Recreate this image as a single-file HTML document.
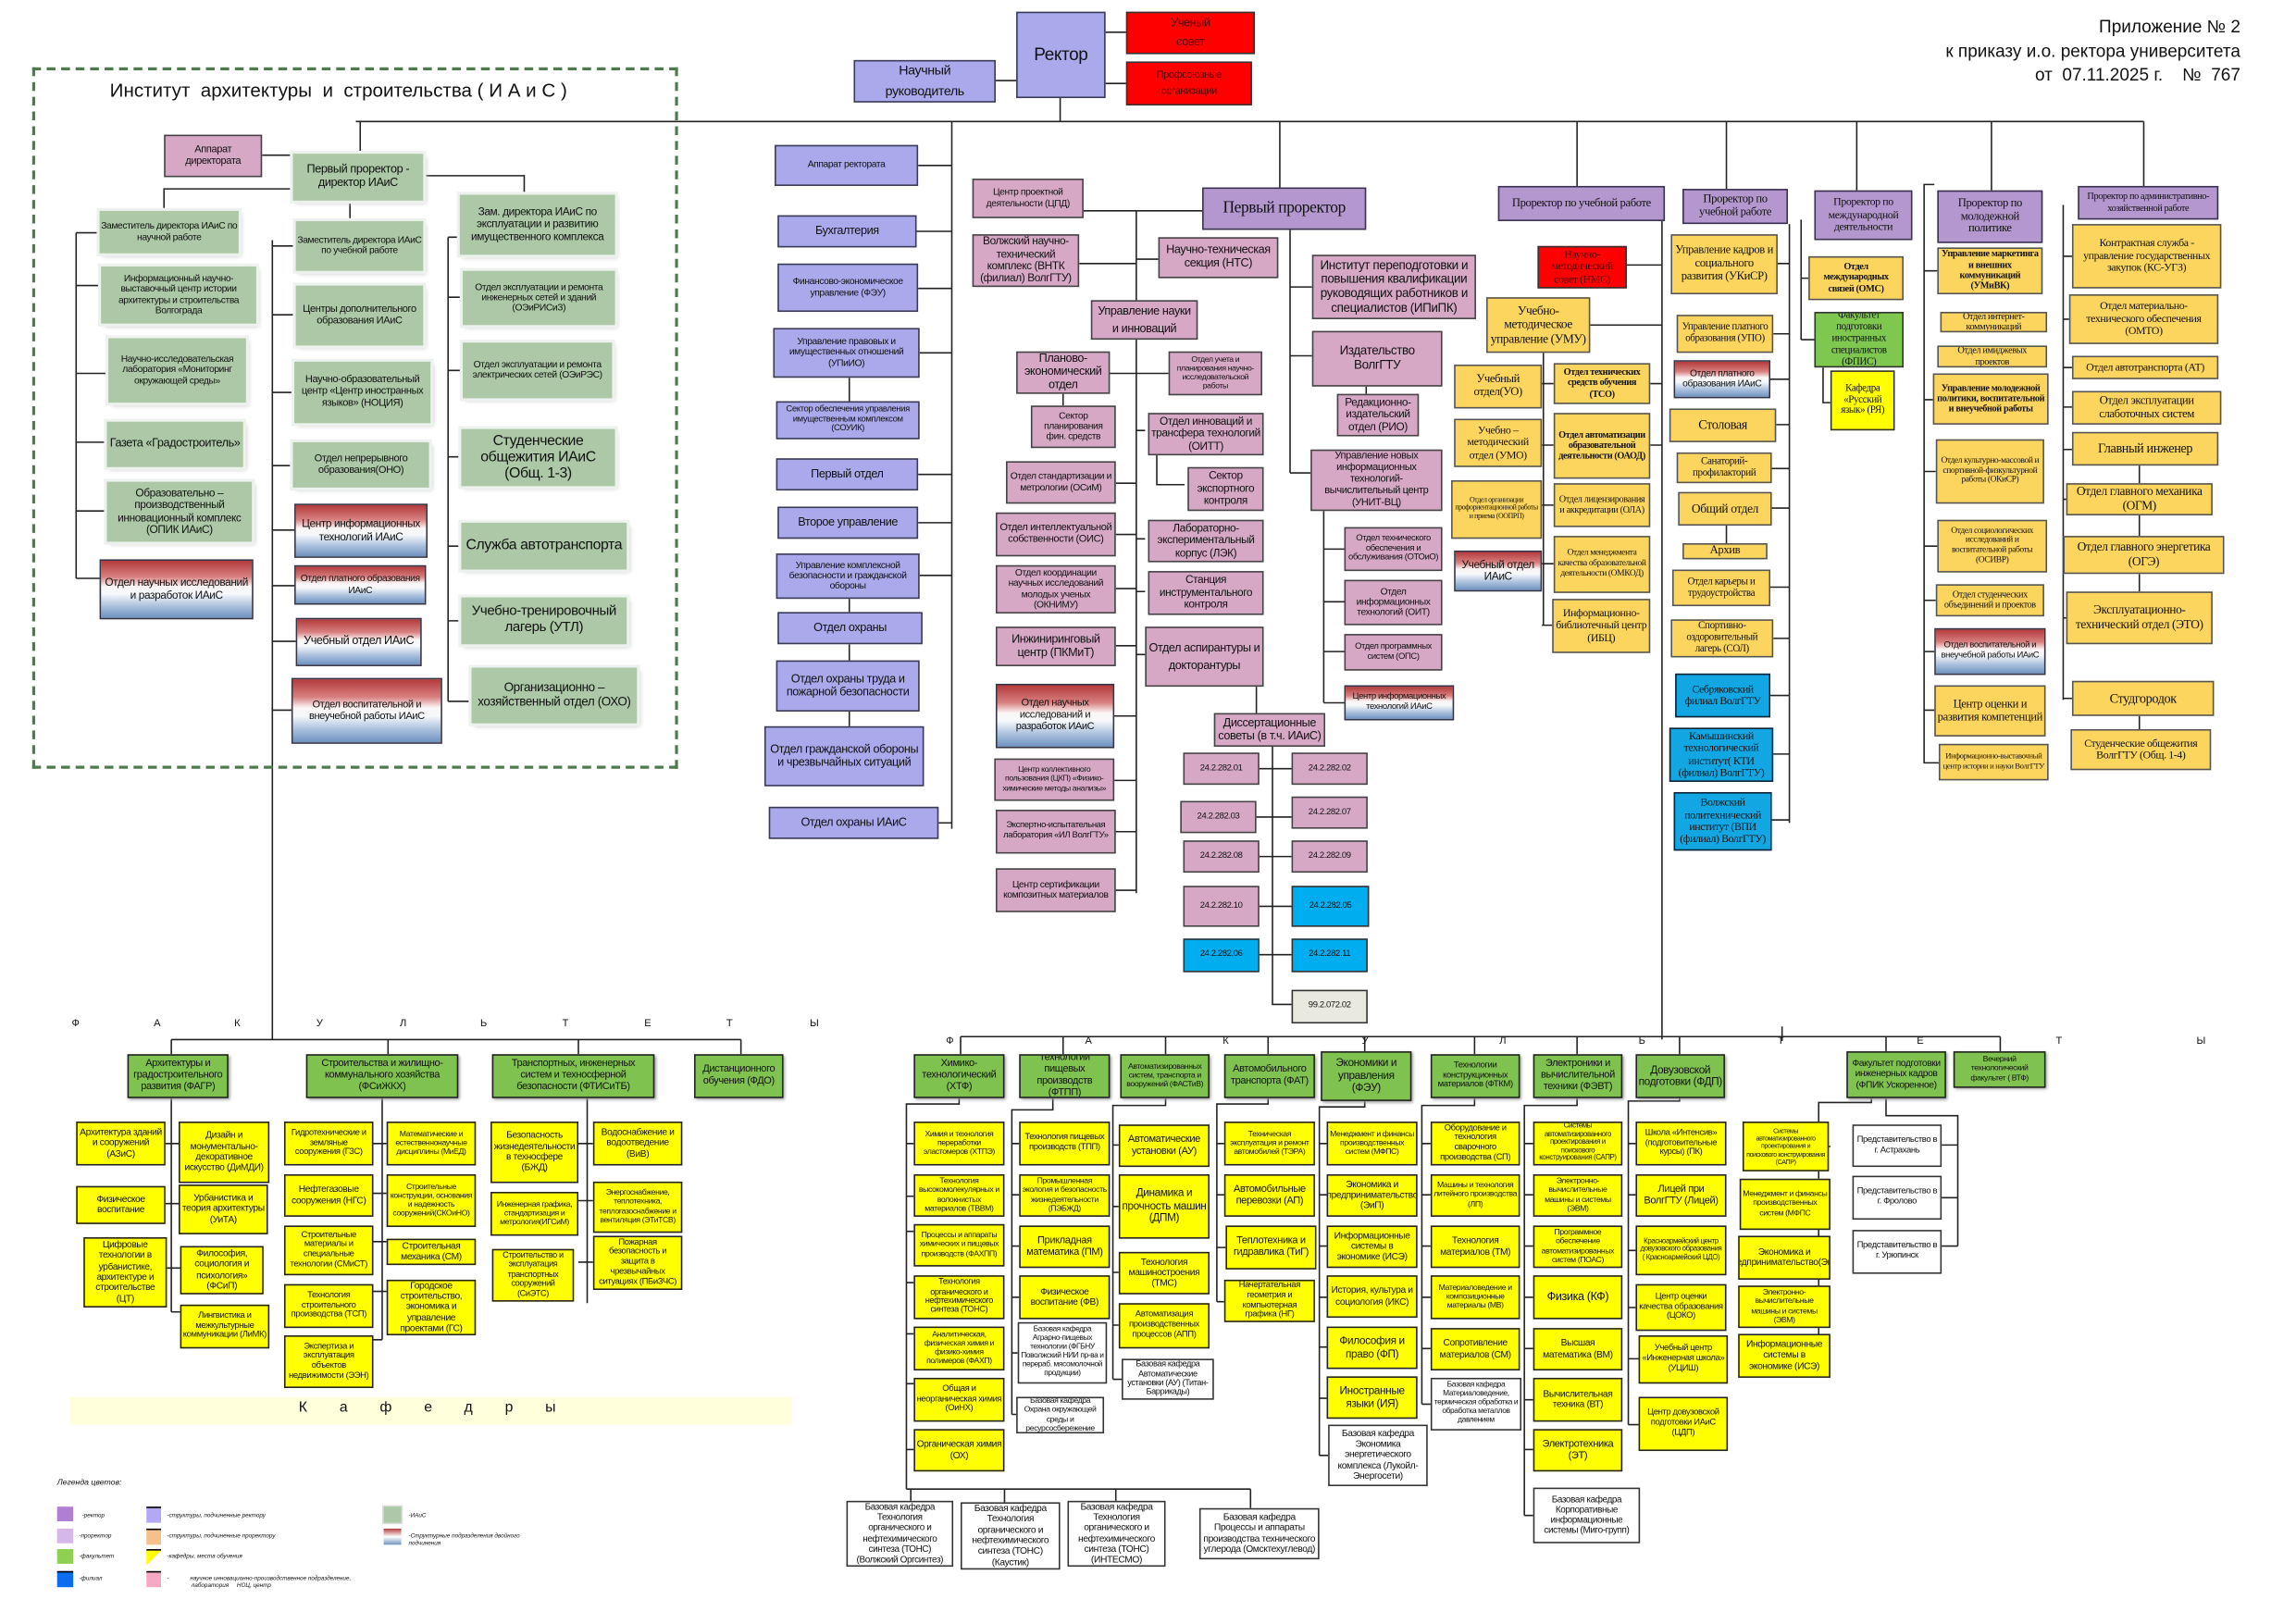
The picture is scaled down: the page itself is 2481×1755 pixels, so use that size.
<!DOCTYPE html>
<html><head><meta charset="utf-8">
<style>
html,body{margin:0;padding:0;background:#fff;}
body{width:2481px;height:1755px;overflow:hidden;position:relative;}
#c{position:absolute;left:0;top:0;width:1568px;height:1109px;transform:scale(1.5823);transform-origin:0 0;font-family:"Liberation Sans",sans-serif;color:#111;}
.b{position:absolute;box-sizing:border-box;border:1px solid #333;display:flex;align-items:center;justify-content:center;text-align:center;font-size:7px;line-height:1.12;overflow:hidden;padding:0 1px;letter-spacing:-0.25px;}
.v{background:#aaa9ec;border:1.4px solid #3a3a55;}
.pp{background:#b497cf;border:1.4px solid #3a3050;font-family:"Liberation Serif",serif;}
.pk{background:#d6a8c6;border:1.3px solid #444;}
.g{background:#acc8a6;border:none;box-shadow:0 0 0 2px #eef2ee,2px 2px 3px #c8c8c8;}
.gr{background:linear-gradient(#b33a3c 0%,#d87f7f 28%,#fbf5f5 45%,#f6f8fb 58%,#a8bfdc 80%,#6f92c0 100%);border:1.2px solid #334;}
.o{background:#fcd55e;border:1.2px solid #555;font-family:"Liberation Serif",serif;}
.y{background:#ffff00;border:1.5px solid #222;}
.f{background:#80c24f;border:1.5px solid #222;box-shadow:1px 1px 2px #999;}
.bl{background:#12a6e2;border:1.4px solid #123;font-family:"Liberation Serif",serif;}
.r{background:#ff0000;border:1.4px solid #333;color:#500;}
.w{background:#fff;border:1.2px solid #333;}
.t{position:absolute;white-space:nowrap;}
.bo{font-weight:bold;}
svg{position:absolute;left:0;top:0;}
</style></head><body><div id="c">
<svg width="1568" height="1109" viewBox="0 0 1568 1109"><g fill="none" stroke="#222" stroke-width="1">
<path d="M243 83H1464M246 83V105M724 67V83M680 55H694M755 22H769M755 57H769"/>
<path d="M650 83V566M627 113H650M626 158H650M627 197H650M628 241H650M627 324H650M627 357H650M628 393H650M641 562H650M580 258V274M580 409V418M580 440V451M580 486V496"/>
<path d="M821 144H740M776 144V610M737 180H776M776 177H791M758 255H776M776 255H798M762 330H776M776 294H782M762 365H776M776 368H782M762 402H776M776 404H782M762 441H776M776 447H782M761 489H776M761 533H776M761 568H776M761 608H776M726 269V277M790 307V331H809"/>
<path d="M858 469V487M869 510V686H882M860 525H882M858 558H882M860 585H882M860 619H882M860 652H882"/>
<path d="M874 83V128M881 157V323M881 196H896M881 243H896M881 323H895M933 264V269M904 349V480M904 375H918M904 411H918M904 445H918M904 480H918"/>
<path d="M1077 83V127M1135 151V710M1111 181H1135M1086 222H1135M1054 241V427M1053 262H1061M1053 304H1061M1053 345H1061M1053 385H1061M1053 427H1060M1127 262H1135M1127 304H1135"/>
<path d="M1179 83V129M1222 153V562M1214 180H1222M1211 228H1222M1209 259H1222M1213 290H1222M1210 320H1222M1210 347H1222M1209 401H1222M1211 436H1222M1209 475H1222M1211 515H1222M1210 560H1222M1179 359V371"/>
<path d="M1268 83V130M1230 150V232M1230 190H1235M1230 232H1239M1245 251V275H1250"/>
<path d="M1360 83V130M1321 126H1314V521H1324M1314 273H1320M1314 322H1322M1314 373H1323M1314 410H1322M1314 445H1321M1314 485H1321M1314 185H1323"/>
<path d="M1464 83V127M1409 140V478M1409 175H1415M1409 218H1413M1409 251H1415M1409 278H1415M1409 307H1415M1409 341H1411M1409 379H1409M1409 422H1411M1409 477H1415M1461 318V330M1461 352V366M1461 392V404M1461 489V498"/>
<path d="M179 106H200M200 129H112V144M52 159V395M52 159H68M52 195H69M52 255H74M52 302H73M52 349H73M52 395H68M239 137V151M186 164V710M186 168H202M186 215H202M186 268H201M186 318H200M186 362H201M186 400H201M186 438H202M186 485H199M289 120H358V133M306 162V479M306 162H314M306 203H316M306 253H316M306 312H315M306 373H315M306 424H315M306 479H322"/>
<path d="M117 710H506M117 710V720M265 710V720M395 710V720M506 710V720M117 750V896M113 781H122M113 822H122M113 866H123M117 896H123M261 750V915M255 781H264M255 815H264M255 848H264M255 882H264M255 915H261M401 750V890M395 781H405M395 820H405M395 862H405"/>
<path d="M656 708H1366M656 708V720M726 708V720M796 708V720M866 708V720M932 708V718M1007 708V720M1077 708V720M1147 708V720M1288 708V718M1366 708V718M1217 701V711"/>
<path d="M655 750V754H619V1017M619 781H624M619 817H624M619 841H624M619 876H624M619 911H624M619 945H624M619 990H624M619 1017H854M622 1017V1025M686 1017V1026M762 1017V1025M854 1017V1030"/>
<path d="M719 750V758H691V966M691 781H696M691 816H696M691 851H696M691 886H696M691 924H695M691 966H694"/>
<path d="M796 750V755H760V942M760 782H764M760 824H764M760 869H764M760 905H764M760 942H766"/>
<path d="M866 750V754H831V889M831 781H836M831 816H836M831 852H837M831 889H836"/>
<path d="M932 752V756H901V994M901 781H906M901 816H906M901 851H906M901 886H906M901 920H906M901 955H906M901 994H907"/>
<path d="M1007 750V755H971V959M971 781H977M971 816H977M971 851H977M971 886H977M971 921H977M971 959H977"/>
<path d="M1077 750V755H1041V1035M1041 781H1047M1041 816H1047M1041 851H1047M1041 886H1047M1041 921H1047M1041 956H1047M1041 990H1047M1041 1035H1047"/>
<path d="M1147 750V752H1112V973M1112 781H1117M1112 816H1117M1112 854H1117M1112 893H1117M1112 928H1119M1112 973H1119"/>
<path d="M1278 750V753H1242V926M1242 783H1250M1242 822H1250M1242 859H1250M1242 892H1250M1242 926H1250M1288 750V762H1337V851M1326 782H1337M1326 818H1337M1326 851H1337"/>
</g></svg>

<!-- header -->
<div class="b v" style="left:694px;top:8px;width:61px;height:59px;font-size:12px">Ректор</div>
<div class="b v" style="left:583px;top:41px;width:97px;height:29px;font-size:9px;line-height:1.5">Научный<br>руководитель</div>
<div class="b r" style="left:769px;top:8px;width:88px;height:29px;font-size:8px;line-height:1.6">Ученый<br>совет</div>
<div class="b r" style="left:769px;top:42px;width:86px;height:30px;font-size:7px;line-height:1.6">Профсоюзные<br>организации</div>
<div class="t" style="right:38px;top:10px;text-align:right;font-size:12px;line-height:16.5px">Приложение № 2<br>к приказу и.о. ректора университета<br>от&nbsp; 07.11.2025 г.&nbsp;&nbsp;&nbsp; №&nbsp; 767</div>

<!-- IAiS -->
<div style="position:absolute;left:22px;top:46px;width:441px;height:479px;box-sizing:border-box;border:2px dashed #4f7a4f"></div>
<div class="t" style="left:75px;top:54px;font-size:13px">Институт&nbsp; архитектуры&nbsp; и&nbsp; строительства ( И А и С )</div>
<div class="b pk" style="left:112px;top:92px;width:67px;height:29px;font-size:7px">Аппарат<br>директората</div>
<div class="b g" style="left:200px;top:105px;width:89px;height:32px;font-size:8px">Первый проректор - директор ИАиС</div>
<div class="b g" style="left:68px;top:144px;width:95px;height:29px;font-size:6.5px">Заместитель директора ИАиС по научной работе</div>
<div class="b g" style="left:69px;top:182px;width:106px;height:39px;font-size:6.5px">Информационный научно-выставочный центр истории архитектуры и строительства Волгограда</div>
<div class="b g" style="left:74px;top:231px;width:94px;height:44px;font-size:6.5px">Научно-исследовательская лаборатория «Мониторинг окружающей среды»</div>
<div class="b g" style="left:73px;top:288px;width:93px;height:31px;font-size:8px">Газета «Градостроитель»</div>
<div class="b g" style="left:73px;top:329px;width:99px;height:41px;font-size:7.5px">Образовательно – производственный инновационный комплекс (ОПИК ИАиС)</div>
<div class="b gr" style="left:68px;top:382px;width:105px;height:41px;font-size:7.5px">Отдел научных исследований и разработок ИАиС</div>
<div class="b g" style="left:202px;top:151px;width:87px;height:34px;font-size:6.5px">Заместитель директора ИАиС по учебной работе</div>
<div class="b g" style="left:202px;top:195px;width:87px;height:41px;font-size:7px">Центры дополнительного образования ИАиС</div>
<div class="b g" style="left:201px;top:247px;width:93px;height:42px;font-size:7px">Научно-образовательный центр «Центр иностранных языков» (НОЦИЯ)</div>
<div class="b g" style="left:200px;top:302px;width:93px;height:31px;font-size:7px">Отдел непрерывного образования(ОНО)</div>
<div class="b gr" style="left:201px;top:344px;width:91px;height:37px;font-size:7.5px">Центр информационных технологий ИАиС</div>
<div class="b gr" style="left:201px;top:386px;width:90px;height:27px;font-size:6.5px">Отдел платного образования ИАиС</div>
<div class="b gr" style="left:202px;top:422px;width:86px;height:33px;font-size:8px">Учебный отдел ИАиС</div>
<div class="b gr" style="left:199px;top:463px;width:103px;height:45px;font-size:7px">Отдел воспитательной и внеучебной работы ИАиС</div>
<div class="b g" style="left:314px;top:133px;width:106px;height:41px;font-size:7.5px">Зам. директора ИАиС по эксплуатации и развитию имущественного комплекса</div>
<div class="b g" style="left:316px;top:185px;width:104px;height:37px;font-size:6.5px">Отдел эксплуатации и ремонта инженерных сетей и зданий (ОЭиРИСиЗ)</div>
<div class="b g" style="left:316px;top:234px;width:102px;height:38px;font-size:6.5px">Отдел эксплуатации и ремонта электрических сетей (ОЭиРЭС)</div>
<div class="b g" style="left:315px;top:293px;width:105px;height:39px;font-size:10px">Студенческие общежития ИАиС (Общ. 1-3)</div>
<div class="b g" style="left:315px;top:357px;width:113px;height:32px;font-size:10px">Служба автотранспорта</div>
<div class="b g" style="left:315px;top:408px;width:113px;height:32px;font-size:9.5px">Учебно-тренировочный лагерь (УТЛ)</div>
<div class="b g" style="left:322px;top:456px;width:113px;height:38px;font-size:8.5px">Организационно – хозяйственный отдел (ОХО)</div>

<!-- rector column -->
<div class="b v" style="left:529px;top:99px;width:98px;height:28px;font-size:6.5px">Аппарат ректората</div>
<div class="b v" style="left:531px;top:147px;width:95px;height:22px;font-size:8px">Бухгалтерия</div>
<div class="b v" style="left:531px;top:180px;width:96px;height:33px;font-size:6.5px">Финансово-экономическое управление (ФЭУ)</div>
<div class="b v" style="left:528px;top:224px;width:100px;height:34px;font-size:6.5px">Управление правовых и имущественных отношений (УПиИО)</div>
<div class="b v" style="left:530px;top:274px;width:98px;height:26px;font-size:6px">Сектор обеспечения управления имущественным комплексом (СОУИК)</div>
<div class="b v" style="left:530px;top:313px;width:97px;height:22px;font-size:8px">Первый отдел</div>
<div class="b v" style="left:531px;top:346px;width:96px;height:22px;font-size:8px">Второе управление</div>
<div class="b v" style="left:530px;top:378px;width:98px;height:31px;font-size:6.5px">Управление комплексной безопасности и гражданской обороны</div>
<div class="b v" style="left:531px;top:418px;width:99px;height:22px;font-size:8px">Отдел охраны</div>
<div class="b v" style="left:530px;top:451px;width:98px;height:35px;font-size:8px">Отдел охраны труда и пожарной безопасности</div>
<div class="b v" style="left:522px;top:496px;width:109px;height:41px;font-size:8px">Отдел гражданской обороны и чрезвычайных ситуаций</div>
<div class="b v" style="left:525px;top:551px;width:116px;height:22px;font-size:8px">Отдел охраны ИАиС</div>

<!-- first prorector -->
<div class="b pp" style="left:821px;top:128px;width:112px;height:29px;font-size:11px">Первый проректор</div>
<div class="b pk" style="left:664px;top:122px;width:76px;height:27px;font-size:6.5px">Центр проектной деятельности (ЦПД)</div>
<div class="b pk" style="left:664px;top:160px;width:73px;height:36px;font-size:7.5px">Волжский научно-технический комплекс (ВНТК (филиал) ВолгГТУ)</div>
<div class="b pk" style="left:791px;top:162px;width:82px;height:28px;font-size:8px">Научно-техническая секция (НТС)</div>
<div class="b pk" style="left:745px;top:205px;width:73px;height:27px;font-size:8px;line-height:1.5">Управление науки и инноваций</div>
<div class="b pk" style="left:694px;top:240px;width:64px;height:29px;font-size:8px">Планово-экономический отдел</div>
<div class="b pk" style="left:798px;top:240px;width:64px;height:30px;font-size:5.5px">Отдел учета и планирования научно-исследовательской работы</div>
<div class="b pk" style="left:704px;top:277px;width:58px;height:29px;font-size:6.5px">Сектор планирования фин. средств</div>
<div class="b pk" style="left:784px;top:282px;width:79px;height:29px;font-size:7.5px">Отдел инноваций и трансфера технологий (ОИТТ)</div>
<div class="b pk" style="left:811px;top:319px;width:52px;height:30px;font-size:7.5px">Сектор экспортного контроля</div>
<div class="b pk" style="left:687px;top:315px;width:75px;height:29px;font-size:6.5px">Отдел стандартизации и метрологии (ОСиМ)</div>
<div class="b pk" style="left:680px;top:350px;width:82px;height:30px;font-size:7px">Отдел интеллектуальной собственности (ОИС)</div>
<div class="b pk" style="left:784px;top:355px;width:79px;height:29px;font-size:7.5px">Лабораторно-экспериментальный корпус (ЛЭК)</div>
<div class="b pk" style="left:680px;top:386px;width:82px;height:33px;font-size:6.5px">Отдел координации научных исследований молодых ученых (ОКНИМУ)</div>
<div class="b pk" style="left:784px;top:390px;width:79px;height:30px;font-size:7.5px">Станция инструментального контроля</div>
<div class="b pk" style="left:680px;top:428px;width:82px;height:27px;font-size:8px">Инжиниринговый центр (ПКМиТ)</div>
<div class="b pk" style="left:782px;top:428px;width:81px;height:41px;font-size:8px;line-height:1.5">Отдел аспирантуры и докторантуры</div>
<div class="b gr" style="left:680px;top:467px;width:81px;height:44px;font-size:7px">Отдел научных исследований и разработок ИАиС</div>
<div class="b pk" style="left:679px;top:518px;width:82px;height:29px;font-size:5.5px">Центр коллективного пользования (ЦКП) «Физико-химические методы анализы»</div>
<div class="b pk" style="left:680px;top:553px;width:82px;height:30px;font-size:6px">Экспертно-испытательная лаборатория «ИЛ ВолгГТУ»</div>
<div class="b pk" style="left:680px;top:593px;width:82px;height:30px;font-size:6.5px">Центр сертификации композитных материалов</div>
<div class="b pk" style="left:829px;top:487px;width:76px;height:23px;font-size:8px">Диссертационные советы (в т.ч. ИАиС)</div>
<div class="b pk" style="left:808px;top:514px;width:52px;height:22px;font-size:6px">24.2.282.01</div>
<div class="b pk" style="left:882px;top:514px;width:52px;height:22px;font-size:6px">24.2.282.02</div>
<div class="b pk" style="left:806px;top:547px;width:52px;height:22px;font-size:6px">24.2.282.03</div>
<div class="b pk" style="left:882px;top:544px;width:52px;height:22px;font-size:6px">24.2.282.07</div>
<div class="b pk" style="left:808px;top:574px;width:52px;height:22px;font-size:6px">24.2.282.08</div>
<div class="b pk" style="left:882px;top:574px;width:52px;height:22px;font-size:6px">24.2.282.09</div>
<div class="b pk" style="left:808px;top:605px;width:52px;height:28px;font-size:6px">24.2.282.10</div>
<div class="b" style="left:882px;top:605px;width:53px;height:28px;font-size:6px;background:#00aeef">24.2.282.05</div>
<div class="b" style="left:808px;top:641px;width:52px;height:23px;font-size:6px;background:#00aeef">24.2.282.06</div>
<div class="b" style="left:882px;top:641px;width:52px;height:23px;font-size:6px;background:#00aeef">24.2.282.11</div>
<div class="b" style="left:882px;top:676px;width:52px;height:23px;font-size:6px;background:#e9e9df">99.2.072.02</div>
<div class="b pk" style="left:896px;top:174px;width:112px;height:44px;font-size:8.5px">Институт переподготовки и повышения квалификации руководящих работников и специалистов (ИПиПК)</div>
<div class="b pk" style="left:896px;top:226px;width:89px;height:38px;font-size:8.5px">Издательство ВолгГТУ</div>
<div class="b pk" style="left:913px;top:269px;width:56px;height:29px;font-size:7.5px">Редакционно-издательский отдел (РИО)</div>
<div class="b pk" style="left:895px;top:307px;width:90px;height:42px;font-size:7px">Управление новых информационных технологий-вычислительный центр (УНИТ-ВЦ)</div>
<div class="b pk" style="left:918px;top:360px;width:67px;height:30px;font-size:6px">Отдел технического обеспечения и обслуживания (ОТОиО)</div>
<div class="b pk" style="left:918px;top:396px;width:67px;height:31px;font-size:6.5px">Отдел информационных технологий (ОИТ)</div>
<div class="b pk" style="left:918px;top:433px;width:67px;height:25px;font-size:6px">Отдел программных систем (ОПС)</div>
<div class="b gr" style="left:918px;top:468px;width:75px;height:24px;font-size:6px">Центр информационных технологий ИАиС</div>

<!-- prorector educational -->
<div class="b pp" style="left:1023px;top:127px;width:114px;height:24px;font-size:8px">Проректор по учебной работе</div>
<div class="b r" style="left:1050px;top:168px;width:61px;height:29px;font-size:7.5px;font-family:'Liberation Serif',serif">Научно-методический совет (НМС)</div>
<div class="b o" style="left:1015px;top:203px;width:71px;height:38px;font-size:8.5px">Учебно-методическое управление (УМУ)</div>
<div class="b o" style="left:993px;top:249px;width:60px;height:30px;font-size:8px">Учебный отдел(УО)</div>
<div class="b o bo" style="left:1061px;top:248px;width:66px;height:28px;font-size:6.5px">Отдел технических средств обучения (ТСО)</div>
<div class="b o" style="left:993px;top:286px;width:60px;height:33px;font-size:7.5px">Учебно – методический отдел (УМО)</div>
<div class="b o bo" style="left:1061px;top:282px;width:66px;height:45px;font-size:6.5px">Отдел автоматизации образовательной деятельности (ОАОД)</div>
<div class="b o" style="left:991px;top:328px;width:62px;height:40px;font-size:5px">Отдел организации профориентационной работы и приема (ООПРП)</div>
<div class="b o" style="left:1061px;top:330px;width:66px;height:30px;font-size:6.5px">Отдел лицензирования и аккредитации (ОЛА)</div>
<div class="b gr" style="left:993px;top:376px;width:60px;height:28px;font-size:7.5px">Учебный отдел ИАиС</div>
<div class="b o" style="left:1061px;top:366px;width:66px;height:39px;font-size:6px">Отдел менеджмента качества образовательной деятельности (ОМКОД)</div>
<div class="b o" style="left:1060px;top:409px;width:67px;height:37px;font-size:7.5px">Информационно-библиотечный центр (ИБЦ)</div>

<div class="b pp" style="left:1149px;top:129px;width:72px;height:24px;font-size:8px">Проректор по учебной работе</div>
<div class="b o" style="left:1141px;top:160px;width:73px;height:41px;font-size:8px">Управление кадров и социального развития (УКиСР)</div>
<div class="b o" style="left:1145px;top:215px;width:66px;height:26px;font-size:7px">Управление платного образования (УПО)</div>
<div class="b gr" style="left:1143px;top:246px;width:66px;height:26px;font-size:6.5px">Отдел платного образования ИАиС</div>
<div class="b o" style="left:1140px;top:279px;width:73px;height:23px;font-size:9px">Столовая</div>
<div class="b o" style="left:1145px;top:309px;width:65px;height:21px;font-size:7px">Санаторий-профилакторий</div>
<div class="b o" style="left:1146px;top:336px;width:64px;height:23px;font-size:8.5px">Общий отдел</div>
<div class="b o" style="left:1149px;top:371px;width:58px;height:11px;font-size:8px">Архив</div>
<div class="b o" style="left:1142px;top:389px;width:67px;height:25px;font-size:7px">Отдел карьеры и трудоустройства</div>
<div class="b o" style="left:1141px;top:423px;width:70px;height:26px;font-size:7px">Спортивно-оздоровительный лагерь (СОЛ)</div>
<div class="b bl" style="left:1144px;top:460px;width:65px;height:30px;font-size:7.5px">Себряковский филиал ВолгГТУ</div>
<div class="b bl" style="left:1140px;top:497px;width:71px;height:37px;font-size:7.5px">Камышинский технологический институт( КТИ (филиал) ВолгГТУ)</div>
<div class="b bl" style="left:1143px;top:541px;width:67px;height:40px;font-size:7.5px">Волжский политехнический институт (ВПИ (филиал) ВолгГТУ)</div>

<div class="b pp" style="left:1239px;top:130px;width:67px;height:34px;font-size:7.5px">Проректор по международной деятельности</div>
<div class="b o bo" style="left:1235px;top:175px;width:65px;height:30px;font-size:6.5px">Отдел международных связей (ОМС)</div>
<div class="b" style="left:1239px;top:213px;width:61px;height:38px;font-size:7px;background:#7ec850;font-family:'Liberation Serif',serif">Факультет подготовки иностранных специалистов (ФПИС)</div>
<div class="b" style="left:1250px;top:253px;width:44px;height:41px;font-size:7px;background:#ffff00;font-family:'Liberation Serif',serif">Кафедра «Русский язык» (РЯ)</div>

<div class="b pp" style="left:1323px;top:130px;width:72px;height:36px;font-size:8px">Проректор по молодежной политике</div>
<div class="b o bo" style="left:1323px;top:169px;width:72px;height:32px;font-size:6.5px">Управление маркетинга и внешних коммуникаций (УМиВК)</div>
<div class="b o" style="left:1325px;top:213px;width:73px;height:14px;font-size:6.5px">Отдел интернет-коммуникаций</div>
<div class="b o" style="left:1323px;top:236px;width:75px;height:15px;font-size:6.5px">Отдел имиджевых проектов</div>
<div class="b o bo" style="left:1320px;top:255px;width:79px;height:35px;font-size:6.5px">Управление молодежной политики, воспитательной и внеучебной работы</div>
<div class="b o" style="left:1322px;top:300px;width:74px;height:44px;font-size:6px">Отдел культурно-массовой и спортивной-физкультурной работы (ОКиСР)</div>
<div class="b o" style="left:1323px;top:355px;width:75px;height:36px;font-size:6px">Отдел социологических исследований и воспитательной работы (ОСИВР)</div>
<div class="b o" style="left:1322px;top:399px;width:74px;height:22px;font-size:6.5px">Отдел студенческих объединений и проектов</div>
<div class="b gr" style="left:1321px;top:429px;width:76px;height:32px;font-size:6px">Отдел воспитательной и внеучебной работы ИАиС</div>
<div class="b o" style="left:1321px;top:468px;width:76px;height:35px;font-size:8px">Центр оценки и развития компетенций</div>
<div class="b o" style="left:1324px;top:508px;width:75px;height:25px;font-size:5.5px">Информационно-выставочный центр истории и науки ВолгГТУ</div>

<div class="b pp" style="left:1419px;top:127px;width:96px;height:23px;font-size:6.5px">Проректор по административно-хозяйственной работе</div>
<div class="b o" style="left:1415px;top:153px;width:102px;height:44px;font-size:7.5px">Контрактная служба - управление государственных закупок (КС-УГЗ)</div>
<div class="b o" style="left:1413px;top:201px;width:102px;height:34px;font-size:7.5px">Отдел материально-технического обеспечения (ОМТО)</div>
<div class="b o" style="left:1415px;top:243px;width:100px;height:16px;font-size:7.5px">Отдел автотранспорта (АТ)</div>
<div class="b o" style="left:1415px;top:267px;width:102px;height:23px;font-size:8px">Отдел эксплуатации слаботочных систем</div>
<div class="b o" style="left:1415px;top:295px;width:100px;height:23px;font-size:9px">Главный инженер</div>
<div class="b o" style="left:1411px;top:330px;width:100px;height:22px;font-size:8.5px">Отдел главного механика (ОГМ)</div>
<div class="b o" style="left:1409px;top:366px;width:110px;height:26px;font-size:8.5px">Отдел главного энергетика (ОГЭ)</div>
<div class="b o" style="left:1411px;top:404px;width:100px;height:36px;font-size:8.5px">Эксплуатационно-технический отдел (ЭТО)</div>
<div class="b o" style="left:1415px;top:465px;width:97px;height:24px;font-size:9px">Студгородок</div>
<div class="b o" style="left:1414px;top:498px;width:96px;height:28px;font-size:7.5px">Студенческие общежития ВолгГТУ (Общ. 1-4)</div>

<!-- left faculties -->
<div class="t" style="left:49px;top:696px;font-size:7px">Ф</div><div class="t" style="left:105px;top:696px;font-size:7px">А</div><div class="t" style="left:160px;top:696px;font-size:7px">К</div><div class="t" style="left:216px;top:696px;font-size:7px">У</div><div class="t" style="left:273px;top:696px;font-size:7px">Л</div><div class="t" style="left:328px;top:696px;font-size:7px">Ь</div><div class="t" style="left:384px;top:696px;font-size:7px">Т</div><div class="t" style="left:440px;top:696px;font-size:7px">Е</div><div class="t" style="left:496px;top:696px;font-size:7px">Т</div><div class="t" style="left:553px;top:696px;font-size:7px">Ы</div>
<div class="b f" style="left:87px;top:720px;width:69px;height:30px;font-size:7px">Архитектуры и градостроительного развития (ФАГР)</div>
<div class="b f" style="left:209px;top:720px;width:104px;height:30px;font-size:7px">Строительства и жилищно-коммунального хозяйства (ФСиЖКХ)</div>
<div class="b f" style="left:336px;top:720px;width:111px;height:30px;font-size:7px">Транспортных, инженерных систем и техносферной безопасности (ФТИСиТБ)</div>
<div class="b f" style="left:474px;top:720px;width:61px;height:30px;font-size:7px">Дистанционного обучения (ФДО)</div>
<div class="b y" style="left:52px;top:766px;width:61px;height:30px;font-size:6.5px">Архитектура зданий и сооружений (АЗиС)</div>
<div class="b y" style="left:122px;top:766px;width:62px;height:42px;font-size:6.5px">Дизайн и монументально-декоративное искусство (ДиМДИ)</div>
<div class="b y" style="left:52px;top:810px;width:61px;height:26px;font-size:6.5px">Физическое воспитание</div>
<div class="b y" style="left:122px;top:809px;width:61px;height:34px;font-size:6.5px">Урбанистика и теория архитектуры (УиТА)</div>
<div class="b y" style="left:57px;top:845px;width:57px;height:48px;font-size:6.5px">Цифровые технологии в урбанистике, архитектуре и строительстве (ЦТ)</div>
<div class="b y" style="left:123px;top:851px;width:57px;height:33px;font-size:6.5px">Философия, социология и психология» (ФСиП)</div>
<div class="b y" style="left:123px;top:891px;width:61px;height:30px;font-size:6px">Лингвистика и межкультурные коммуникации (ЛиМК)</div>
<div class="b y" style="left:194px;top:766px;width:61px;height:30px;font-size:6px">Гидротехнические и земляные сооружения (ГЗС)</div>
<div class="b y" style="left:264px;top:766px;width:61px;height:30px;font-size:5.5px">Математические и естественнонаучные дисциплины (МиЕД)</div>
<div class="b y" style="left:194px;top:802px;width:61px;height:29px;font-size:6.5px">Нефтегазовые сооружения (НГС)</div>
<div class="b y" style="left:264px;top:802px;width:61px;height:36px;font-size:5.5px">Строительные конструкции, основания и надежность сооружений(СКОиНО)</div>
<div class="b y" style="left:194px;top:837px;width:61px;height:34px;font-size:6px">Строительные материалы и специальные технологии (СМиСТ)</div>
<div class="b y" style="left:264px;top:846px;width:61px;height:18px;font-size:6.5px">Строительная механика (СМ)</div>
<div class="b y" style="left:194px;top:877px;width:61px;height:30px;font-size:6px">Технология строительного производства (ТСП)</div>
<div class="b y" style="left:264px;top:874px;width:61px;height:38px;font-size:6.5px">Городское строительство, экономика и управление проектами (ГС)</div>
<div class="b y" style="left:194px;top:912px;width:61px;height:36px;font-size:6px">Экспертиза и эксплуатация объектов недвижимости (ЭЭН)</div>
<div class="b y" style="left:335px;top:766px;width:60px;height:42px;font-size:6.5px">Безопасность жизнедеятельности в техносфере (БЖД)</div>
<div class="b y" style="left:405px;top:766px;width:61px;height:30px;font-size:6.5px">Водоснабжение и водоотведение (ВиВ)</div>
<div class="b y" style="left:335px;top:814px;width:60px;height:30px;font-size:5.5px">Инженерная графика, стандартизация и метрология(ИГСиМ)</div>
<div class="b y" style="left:405px;top:807px;width:61px;height:35px;font-size:5.5px">Энергоснабжение, теплотехника, теплогазоснабжение и вентиляция (ЭТиТСВ)</div>
<div class="b y" style="left:336px;top:853px;width:56px;height:36px;font-size:5.8px">Строительство и эксплуатация транспортных сооружений (СиЭТС)</div>
<div class="b y" style="left:405px;top:844px;width:61px;height:37px;font-size:6px">Пожарная безопасность и защита в чрезвычайных ситуациях (ПБиЗЧС)</div>
<div style="position:absolute;left:48px;top:954px;width:493px;height:19px;background:#ffffdc"></div>
<div class="t" style="left:204px;top:956px;font-size:10px;letter-spacing:22px">Кафедры</div>

<!-- legend -->
<div class="t" style="left:39px;top:1010px;font-size:5.5px;font-style:italic">Легенда цветов:</div>
<div style="position:absolute;left:39px;top:1029px;width:11px;height:10px;background:#b07fd3"></div>
<div style="position:absolute;left:39px;top:1044px;width:11px;height:10px;background:#d7b7ea"></div>
<div style="position:absolute;left:39px;top:1058px;width:11px;height:10px;background:#8fcf51"></div>
<div style="position:absolute;left:39px;top:1073px;width:11px;height:10px;background:#0a6df0;border-top:1px solid #000"></div>
<div class="t" style="left:56px;top:1032px;font-size:4px;font-style:italic">-ректор</div>
<div class="t" style="left:54px;top:1046px;font-size:4px;font-style:italic">-проректор</div>
<div class="t" style="left:54px;top:1060px;font-size:4px;font-style:italic">-факультет</div>
<div class="t" style="left:54px;top:1075px;font-size:4px;font-style:italic">-филиал</div>
<div style="position:absolute;left:100px;top:1029px;width:10px;height:10px;background:#b3a8f5;border-top:1.5px solid #000"></div>
<div style="position:absolute;left:100px;top:1044px;width:10px;height:10px;background:#f5c08a;border-top:1.5px solid #000"></div>
<div style="position:absolute;left:100px;top:1058px;width:10px;height:10px;background:linear-gradient(135deg,#ffff00 50%,#fff 50%);border-top:1.5px solid #000"></div>
<div style="position:absolute;left:100px;top:1073px;width:10px;height:10px;background:#f7a8c4;border-top:1.5px solid #000"></div>
<div class="t" style="left:114px;top:1032px;font-size:4px;font-style:italic">-структуры, подчиненные ректору</div>
<div class="t" style="left:114px;top:1046px;font-size:4px;font-style:italic">-структуры, подчиненные проректору</div>
<div class="t" style="left:114px;top:1060px;font-size:4px;font-style:italic">-кафедры, места обучения</div>
<div class="t" style="left:114px;top:1075px;font-size:4px;font-style:italic">-&nbsp;&nbsp;&nbsp;&nbsp;&nbsp;&nbsp;&nbsp;&nbsp;&nbsp;&nbsp;&nbsp;&nbsp;&nbsp;научное инновационно-производственное подразделение,<br>&nbsp;&nbsp;&nbsp;&nbsp;&nbsp;&nbsp;&nbsp;&nbsp;&nbsp;&nbsp;&nbsp;&nbsp;&nbsp;&nbsp;&nbsp;лаборатория&nbsp;&nbsp;&nbsp;&nbsp; НОЦ, центр</div>
<div style="position:absolute;left:262px;top:1029px;width:12px;height:11px;background:#acc8a6;box-shadow:0 0 0 1px #ddd"></div>
<div style="position:absolute;left:262px;top:1044px;width:12px;height:11px;background:linear-gradient(#b33a3c,#fff 50%,#6f92c0)"></div>
<div class="t" style="left:279px;top:1032px;font-size:4px;font-style:italic">-ИАиС</div>
<div class="t" style="left:279px;top:1046px;font-size:4px;font-style:italic">-Структурные подразделения двойного<br>подчинения</div>

<!-- middle faculties -->
<div class="t" style="left:646px;top:708px;font-size:7px">Ф</div><div class="t" style="left:741px;top:708px;font-size:7px">А</div><div class="t" style="left:835px;top:708px;font-size:7px">К</div><div class="t" style="left:930px;top:708px;font-size:7px">У</div><div class="t" style="left:1024px;top:708px;font-size:7px">Л</div><div class="t" style="left:1119px;top:708px;font-size:7px">Ь</div><div class="t" style="left:1214px;top:708px;font-size:7px">Т</div><div class="t" style="left:1309px;top:708px;font-size:7px">Е</div><div class="t" style="left:1404px;top:708px;font-size:7px">Т</div><div class="t" style="left:1500px;top:708px;font-size:7px">Ы</div>
<div class="b f" style="left:624px;top:720px;width:62px;height:30px;font-size:7px">Химико-технологический (ХТФ)</div>
<div class="b f" style="left:696px;top:720px;width:62px;height:30px;font-size:7px">Технологии пищевых производств (ФТПП)</div>
<div class="b f" style="left:765px;top:720px;width:61px;height:30px;font-size:5.5px">Автоматизированных систем, транспорта и вооружений (ФАСТиВ)</div>
<div class="b f" style="left:836px;top:720px;width:62px;height:30px;font-size:7px">Автомобильного транспорта (ФАТ)</div>
<div class="b f" style="left:902px;top:718px;width:62px;height:34px;font-size:7.5px">Экономики и управления (ФЭУ)</div>
<div class="b f" style="left:977px;top:720px;width:61px;height:30px;font-size:6px">Технологии конструкционных материалов (ФТКМ)</div>
<div class="b f" style="left:1047px;top:720px;width:61px;height:30px;font-size:7px">Электроники и вычислительной техники (ФЭВТ)</div>
<div class="b f" style="left:1117px;top:720px;width:61px;height:30px;font-size:7.5px">Довузовской подготовки (ФДП)</div>
<div class="b f" style="left:1261px;top:718px;width:68px;height:32px;font-size:6.5px">Факультет подготовки инженерных кадров (ФПИК Ускоренное)</div>
<div class="b f" style="left:1334px;top:718px;width:63px;height:25px;font-size:5.5px">Вечерний технологический факультет ( ВТФ)</div>

<div class="b y" style="left:624px;top:766px;width:62px;height:30px;font-size:5.5px">Химия и технология переработки эластомеров (ХТПЭ)</div>
<div class="b y" style="left:624px;top:802px;width:62px;height:29px;font-size:5.5px">Технология высокомолекулярных и волокнистых материалов (ТВВМ)</div>
<div class="b y" style="left:624px;top:836px;width:62px;height:29px;font-size:5.5px">Процессы и аппараты химических и пищевых производств (ФАХПП)</div>
<div class="b y" style="left:624px;top:871px;width:62px;height:30px;font-size:5.8px">Технология органического и нефтехимического синтеза (ТОНС)</div>
<div class="b y" style="left:624px;top:906px;width:62px;height:30px;font-size:5.5px">Аналитическая, физическая химия и физико-химия полимеров (ФАХП)</div>
<div class="b y" style="left:624px;top:941px;width:62px;height:30px;font-size:6px">Общая и неорганическая химия (ОиНХ)</div>
<div class="b y" style="left:624px;top:976px;width:62px;height:29px;font-size:6.5px">Органическая химия (ОХ)</div>
<div class="b w" style="left:578px;top:1025px;width:73px;height:45px;font-size:6.3px">Базовая кафедра Технология органического и нефтехимического синтеза (ТОНС) (Волжский Оргсинтез)</div>
<div class="b w" style="left:656px;top:1026px;width:68px;height:46px;font-size:6.5px">Базовая кафедра Технология органического и нефтехимического синтеза (ТОНС) (Каустик)</div>
<div class="b w" style="left:729px;top:1025px;width:67px;height:45px;font-size:6.5px">Базовая кафедра Технология органического и нефтехимического синтеза (ТОНС) (ИНТЕСМО)</div>
<div class="b w" style="left:819px;top:1030px;width:82px;height:35px;font-size:6.5px">Базовая кафедра Процессы и аппараты производства технического углерода (Омсктехуглевод)</div>

<div class="b y" style="left:696px;top:766px;width:62px;height:30px;font-size:6px">Технология пищевых производств (ТПП)</div>
<div class="b y" style="left:696px;top:802px;width:62px;height:29px;font-size:5.5px">Промышленная экология и безопасность жизнедеятельности (ПЭБЖД)</div>
<div class="b y" style="left:696px;top:837px;width:62px;height:29px;font-size:7px">Прикладная математика (ПМ)</div>
<div class="b y" style="left:696px;top:871px;width:62px;height:30px;font-size:6.5px">Физическое воспитание (ФВ)</div>
<div class="b w" style="left:695px;top:903px;width:61px;height:42px;font-size:5.3px">Базовая кафедра Аграрно-пищевых технологии (ФГБНУ Поволжский НИИ пр-ва и перераб. мясомолочной продукции)</div>
<div class="b w" style="left:694px;top:954px;width:60px;height:25px;font-size:5.5px">Базовая кафедра Охрана окружающей среды и ресурсосбережение</div>

<div class="b y" style="left:764px;top:768px;width:62px;height:29px;font-size:7px">Автоматические установки (АУ)</div>
<div class="b y" style="left:764px;top:802px;width:62px;height:44px;font-size:7.5px">Динамика и прочность машин (ДПМ)</div>
<div class="b y" style="left:764px;top:855px;width:62px;height:29px;font-size:6.5px">Технология машиностроения (ТМС)</div>
<div class="b y" style="left:764px;top:890px;width:62px;height:31px;font-size:6px">Автоматизация производственных процессов (АПП)</div>
<div class="b w" style="left:766px;top:928px;width:63px;height:28px;font-size:5.8px">Базовая кафедра Автоматические установки (АУ) (Титан-Баррикады)</div>

<div class="b y" style="left:836px;top:766px;width:62px;height:30px;font-size:5.5px">Техническая эксплуатация и ремонт автомобилей (ТЭРА)</div>
<div class="b y" style="left:836px;top:802px;width:62px;height:29px;font-size:7px">Автомобильные перевозки (АП)</div>
<div class="b y" style="left:837px;top:837px;width:62px;height:30px;font-size:7px">Теплотехника и гидравлика (ТиГ)</div>
<div class="b y" style="left:836px;top:874px;width:62px;height:29px;font-size:6px">Начертательная геометрия и компьютерная графика (НГ)</div>

<div class="b y" style="left:906px;top:766px;width:62px;height:30px;font-size:5.5px">Менеджмент и финансы производственных систем (МФПС)</div>
<div class="b y" style="left:906px;top:802px;width:62px;height:29px;font-size:6.5px">Экономика и предпринимательство (ЭиП)</div>
<div class="b y" style="left:906px;top:837px;width:62px;height:29px;font-size:6.5px">Информационные системы в экономике (ИСЭ)</div>
<div class="b y" style="left:906px;top:871px;width:62px;height:29px;font-size:6.5px">История, культура и социология (ИКС)</div>
<div class="b y" style="left:906px;top:906px;width:62px;height:29px;font-size:7.5px">Философия и право (ФП)</div>
<div class="b y" style="left:906px;top:940px;width:62px;height:29px;font-size:7.5px">Иностранные языки (ИЯ)</div>
<div class="b w" style="left:907px;top:973px;width:68px;height:42px;font-size:6.5px">Базовая кафедра Экономика энергетического комплекса (Лукойл-Энергосети)</div>

<div class="b y" style="left:977px;top:766px;width:61px;height:30px;font-size:6px">Оборудование и технология сварочного производства (СП)</div>
<div class="b y" style="left:977px;top:802px;width:61px;height:29px;font-size:5.5px">Машины и технология литейного производства (ЛП)</div>
<div class="b y" style="left:977px;top:837px;width:61px;height:29px;font-size:6.5px">Технология материалов (ТМ)</div>
<div class="b y" style="left:977px;top:871px;width:61px;height:30px;font-size:5.5px">Материаловедение и композиционные материалы (МВ)</div>
<div class="b y" style="left:977px;top:907px;width:61px;height:29px;font-size:6.5px">Сопротивление материалов (СМ)</div>
<div class="b w" style="left:977px;top:941px;width:62px;height:36px;font-size:5.3px">Базовая кафедра Материаловедение, термическая обработка и обработка металлов давлением</div>

<div class="b y" style="left:1047px;top:766px;width:61px;height:30px;font-size:5px">Системы автоматизированного проектирования и поискового конструирования (САПР)</div>
<div class="b y" style="left:1047px;top:802px;width:61px;height:29px;font-size:5.5px">Электронно-вычислительные машины и системы (ЭВМ)</div>
<div class="b y" style="left:1047px;top:837px;width:61px;height:29px;font-size:5.5px">Программное обеспечение автоматизированных систем (ПОАС)</div>
<div class="b y" style="left:1047px;top:871px;width:61px;height:30px;font-size:8px">Физика (КФ)</div>
<div class="b y" style="left:1047px;top:907px;width:61px;height:29px;font-size:6.5px">Высшая математика (ВМ)</div>
<div class="b y" style="left:1047px;top:941px;width:61px;height:30px;font-size:6.5px">Вычислительная техника (ВТ)</div>
<div class="b y" style="left:1047px;top:976px;width:61px;height:29px;font-size:7px">Электротехника (ЭТ)</div>
<div class="b w" style="left:1047px;top:1016px;width:73px;height:38px;font-size:6.3px">Базовая кафедра Корпоративные информационные системы (Миго-групп)</div>

<div class="b y" style="left:1117px;top:766px;width:62px;height:30px;font-size:6px">Школа «Интенсив» (подготовительные курсы) (ПК)</div>
<div class="b y" style="left:1117px;top:802px;width:62px;height:29px;font-size:7px">Лицей при ВолгГТУ (Лицей)</div>
<div class="b y" style="left:1117px;top:837px;width:62px;height:34px;font-size:5px">Красноармейский центр довузовского образования ( Красноармейский ЦДО)</div>
<div class="b y" style="left:1117px;top:877px;width:62px;height:32px;font-size:6px">Центр оценки качества образования (ЦОКО)</div>
<div class="b y" style="left:1119px;top:912px;width:61px;height:33px;font-size:6px">Учебный центр «Инженерная школа» (УЦИШ)</div>
<div class="b y" style="left:1119px;top:954px;width:61px;height:37px;font-size:6px">Центр довузовской подготовки ИАиС (ЦДП)</div>

<div class="b y" style="left:1190px;top:766px;width:59px;height:34px;font-size:4.5px">Системы автоматизированного проектирования и поискового конструирования (САПР)</div>
<div class="b y" style="left:1188px;top:805px;width:62px;height:35px;font-size:5.5px">Менеджмент и финансы производственных систем (МФПС</div>
<div class="b y" style="left:1187px;top:844px;width:63px;height:30px;font-size:6.5px">Экономика и предпринимательство(ЭиП)</div>
<div class="b y" style="left:1187px;top:878px;width:63px;height:29px;font-size:5.5px">Электронно-вычислительные машины и системы (ЭВМ)</div>
<div class="b y" style="left:1187px;top:911px;width:63px;height:30px;font-size:6.5px">Информационные системы в экономике (ИСЭ)</div>
<div class="b w" style="left:1265px;top:768px;width:61px;height:29px;font-size:6px">Представительство в г. Астрахань</div>
<div class="b w" style="left:1265px;top:803px;width:61px;height:30px;font-size:6px">Представительство в г. Фролово</div>
<div class="b w" style="left:1265px;top:840px;width:61px;height:30px;font-size:6px">Представительство в г. Урюпинск</div>
</div></body></html>
